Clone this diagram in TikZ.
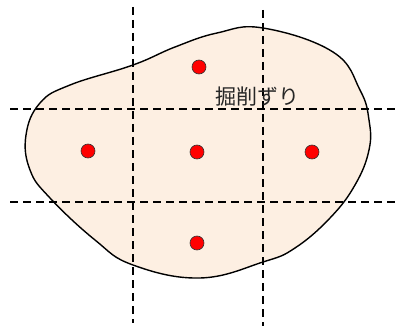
\documentclass[tikz,border=0pt]{standalone}
\usepackage{fontspec}
\newfontfamily\jpfont{Noto Sans CJK JP}
\begin{document}
\begin{tikzpicture}[x=1pt,y=-1pt,
  grid/.style={draw=black,line width=1.3pt,dash pattern=on 8pt off 5pt},
  pt/.style={circle,fill=red,draw=black!80,line width=0.6pt,minimum size=14pt,inner sep=0pt},
  blob/.style={smooth cycle,tension=0.7}]
\useasboundingbox (0,0) rectangle (404,326);
\def\blobpts{(263,28) (333,52) (360,90) (369,120) (369,150) (355,185) (330,218) (295,248) (263,262)
 (200,278) (133,265) (95,240) (50,198) (30,170) (26,135) (40,103) (70,85)
 (133,65) (175,47) (217,33)}
\fill[fill={rgb,255:red,253;green,239;blue,226}] plot[blob] coordinates {\blobpts};
\coordinate (v1t) at (133,7); \coordinate (v1b) at (133,323);
\coordinate (v2t) at (263,10); \coordinate (v2b) at (263,326);
\coordinate (h1l) at (10,109); \coordinate (h1r) at (398,109);
\coordinate (h2l) at (10,202); \coordinate (h2r) at (398,202);
\draw[grid] (v1t) -- (v1b);
\draw[grid] (v2t) -- (v2b);
\draw[grid] (h1l) -- (h1r);
\draw[grid] (h2l) -- (h2r);
\draw[line width=1.4pt] plot[blob] coordinates {\blobpts};
\node[pt] (p1) at (199,67) {};
\node[pt] (p2) at (88,151) {};
\node[pt] (p3) at (197,152) {};
\node[pt] (p4) at (312,152) {};
\node[pt] (p5) at (197,243) {};
\node[font=\jpfont\fontsize{21}{25}\selectfont,text=black!85,inner sep=0pt] (lbl) at (257,97) {掘削ずり};
\end{tikzpicture}
\end{document}
